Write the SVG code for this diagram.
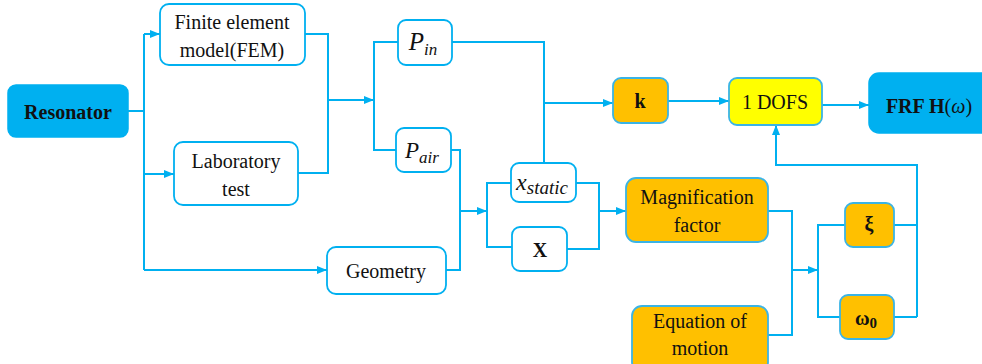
<svg xmlns="http://www.w3.org/2000/svg" width="982" height="364" viewBox="0 0 982 364">
<defs>
<marker id="arr" markerUnits="userSpaceOnUse" markerWidth="10" markerHeight="10" viewBox="0 0 10 10" refX="10" refY="5" orient="auto">
<path d="M0,1 L10,5 L0,9 Z" fill="#00B0F0"/>
</marker>
<style>
.c{fill:none;stroke:#00B0F0;stroke-width:2}
.a{marker-end:url(#arr)}
.w{fill:#fff;stroke:#00B0F0;stroke-width:1.8}
.o{fill:#FFC000;stroke:#3AB4E6;stroke-width:1.8}
.b{fill:#00B0F0;stroke:#00B0F0;stroke-width:1.5}
.y{fill:#FFFF00;stroke:#3AB4E6;stroke-width:1.8}
text{font-family:"Liberation Serif","Times New Roman",serif;font-size:20px;fill:#111;text-anchor:middle}
.bd{font-weight:bold}
.it{font-style:italic}
</style>
</defs>
<g id="connectors">
<path class="c" d="M128,111 H144 M144,34 V270"/>
<path class="c a" d="M144,34 H160"/>
<path class="c a" d="M144,174 H174"/>
<path class="c a" d="M144,270 H327"/>
<path class="c" d="M305,34 H328 V173 H298"/>
<path class="c a" d="M328,100 H374"/>
<path class="c" d="M398,42 H374 V150 H396"/>
<path class="c" d="M452,42 H544 V163"/>
<path class="c a" d="M544,103 H613"/>
<path class="c a" d="M668,101 H729"/>
<path class="c a" d="M822,105 H869"/>
<path class="c" d="M451,150 H460 V270 H446"/>
<path class="c a" d="M460,211 H487"/>
<path class="c" d="M511,183 H487 V247 H512"/>
<path class="c" d="M576,183 H599 V249 H567"/>
<path class="c a" d="M599,211 H626"/>
<path class="c" d="M768,211 H792 V335 H768"/>
<path class="c a" d="M792,270 H818"/>
<path class="c" d="M845,225 H818 V317 H840"/>
<path class="c" d="M894,225 H917 M894,317 H917"/>
<path class="c a" d="M917,317 V165 H776 V125"/>
</g>
<g id="resonator">
<rect class="b" x="8" y="85" width="120" height="52" rx="8"/>
<text class="bd" x="68" y="119">Resonator</text>
</g>
<g id="fem">
<rect class="w" x="160" y="4" width="145" height="61" rx="9"/>
<text x="232" y="29">Finite element</text>
<text x="232" y="57">model(FEM)</text>
</g>
<g id="lab">
<rect class="w" x="174" y="142" width="124" height="63" rx="9"/>
<text x="236" y="168">Laboratory</text>
<text x="236" y="196">test</text>
</g>
<g id="geometry">
<rect class="w" x="327" y="247" width="119" height="47" rx="9"/>
<text x="386" y="278">Geometry</text>
</g>
<g id="pin">
<rect class="w" x="398" y="20" width="54" height="45" rx="8"/>
<text x="423" y="50"><tspan class="it" font-size="25">P</tspan><tspan class="it" font-size="17" dy="5">in</tspan></text>
</g>
<g id="pair">
<rect class="w" x="396" y="128" width="55" height="44" rx="8"/>
<text x="422" y="158"><tspan class="it" font-size="23">P</tspan><tspan class="it" font-size="17" dy="5">air</tspan></text>
</g>
<g id="xstatic">
<rect class="w" x="511" y="163" width="65" height="39" rx="8"/>
<text x="542" y="190"><tspan class="it" font-size="24">x</tspan><tspan class="it" font-size="19" dy="4">static</tspan></text>
</g>
<g id="X">
<rect class="w" x="512" y="227" width="55" height="44" rx="8"/>
<text class="bd" x="540" y="257">X</text>
</g>
<g id="k">
<rect class="o" x="613" y="78" width="55" height="45" rx="8"/>
<text class="bd" x="640" y="108">k</text>
</g>
<g id="dofs">
<rect class="y" x="729" y="78" width="93" height="47" rx="8"/>
<text x="775" y="109">1 DOFS</text>
</g>
<g id="frf">
<rect class="b" x="869" y="73" width="125" height="60" rx="10"/>
<text x="929" y="113"><tspan class="bd">FRF H</tspan><tspan>(</tspan><tspan class="it">ω</tspan><tspan>)</tspan></text>
</g>
<g id="magnification">
<rect class="o" x="626" y="178" width="142" height="64" rx="10"/>
<text x="697" y="204">Magnification</text>
<text x="697" y="232">factor</text>
</g>
<g id="equation">
<rect class="o" x="632" y="306" width="136" height="66" rx="10"/>
<text x="700" y="328">Equation of</text>
<text x="700" y="355">motion</text>
</g>
<g id="xi">
<rect class="o" x="845" y="203" width="49" height="44" rx="8"/>
<text class="bd" x="869" y="231" font-size="22">ξ</text>
</g>
<g id="omega0">
<rect class="o" x="840" y="295" width="54" height="44" rx="8"/>
<text class="bd" x="866" y="325" font-size="22">ω<tspan font-size="15" dy="3">0</tspan></text>
</g>
</svg>
